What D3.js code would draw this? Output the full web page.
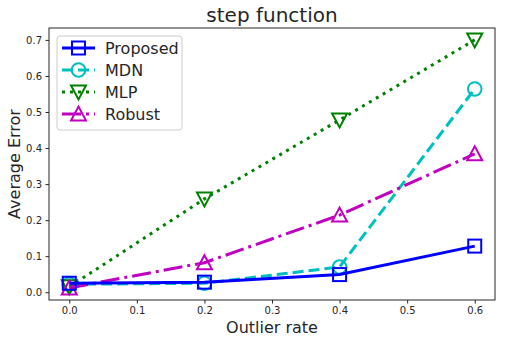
<!DOCTYPE html>
<html>
<head>
<meta charset="utf-8">
<script src="https://cdn.jsdelivr.net/npm/d3@7"></script>
<style>
  body { margin: 0; background: #fff; }
  text { font-family: "DejaVu Sans", sans-serif; fill: #262626; }
</style>
</head>
<body>
<script>
const W = 506, H = 343
const margin = {top: 28, right: 11, bottom: 43, left: 49}

// data
const outlierRates = [0.0, 0.2, 0.4, 0.6]
const proposed = [0.025, 0.028, 0.049, 0.128]
const mdn = [0.022, 0.025, 0.07, 0.564]
const mlp = [0.015, 0.259, 0.478, 0.70]
const robust = [0.012, 0.082, 0.214, 0.384]
const xTicks = [0.0, 0.1, 0.2, 0.3, 0.4, 0.5, 0.6]
const yTicks = [0.0, 0.1, 0.2, 0.3, 0.4, 0.5, 0.6, 0.7]

const series = [
  {name: 'Proposed', values: proposed, color: '#0000ff', dash: null, marker: 'square'},
  {name: 'MDN', values: mdn, color: '#00bfbf', dash: '11,5', marker: 'circle'},
  {name: 'MLP', values: mlp, color: '#008000', dash: '3,5', marker: 'tridown'},
  {name: 'Robust', values: robust, color: '#bf00bf', dash: '19,5,3,5', marker: 'triup'}
]

const svg = d3.select('body').append('svg')
    .attr('width', W)
    .attr('height', H)

const xScale = d3.scaleLinear()
    .domain([-0.03, 0.63])
    .range([margin.left, W - margin.right])

const yScale = d3.scaleLinear()
    .domain([-0.0215, 0.733])
    .range([H - margin.bottom, margin.top])

// axes
const xAxis = svg.append('g')
    .attr('transform', 'translate(0,' + (H - margin.bottom) + ')')
    .call(d3.axisBottom(xScale).tickValues(xTicks).tickFormat(d3.format('.1f')).tickSizeOuter(0).tickSize(3.5).tickPadding(3.5))
xAxis.select('.domain').remove()
xAxis.selectAll('text').style('font-size', '10px').attr('fill', '#262626')

const yAxis = svg.append('g')
    .attr('transform', 'translate(' + margin.left + ',0)')
    .call(d3.axisLeft(yScale).tickValues(yTicks).tickFormat(d3.format('.1f')).tickSizeOuter(0).tickSize(3.5).tickPadding(3.5))
yAxis.select('.domain').remove()
yAxis.selectAll('text').style('font-size', '10px').attr('fill', '#262626')
svg.selectAll('.tick line').attr('stroke', '#262626')

// frame
svg.append('rect')
    .attr('x', margin.left)
    .attr('y', margin.top)
    .attr('width', W - margin.left - margin.right)
    .attr('height', H - margin.top - margin.bottom)
    .attr('fill', 'none')
    .attr('stroke', '#262626')
    .attr('stroke-width', 1)

function drawMarker(g, type, x, y, color) {
  if (type === 'square') {
    g.append('rect').attr('x', x - 6.5).attr('y', y - 6.5).attr('width', 13).attr('height', 13)
      .attr('fill', 'none').attr('stroke', color).attr('stroke-width', 2)
  } else if (type === 'circle') {
    g.append('circle').attr('cx', x).attr('cy', y).attr('r', 6.8)
      .attr('fill', 'none').attr('stroke', color).attr('stroke-width', 2)
  } else if (type === 'tridown') {
    g.append('path').attr('d', `M${x - 7.5},${y - 6.5}L${x + 7.5},${y - 6.5}L${x},${y + 7.5}Z`)
      .attr('fill', 'none').attr('stroke', color).attr('stroke-width', 2)
  } else {
    g.append('path').attr('d', `M${x - 7.5},${y + 6.5}L${x + 7.5},${y + 6.5}L${x},${y - 7.5}Z`)
      .attr('fill', 'none').attr('stroke', color).attr('stroke-width', 2)
  }
}

const line = d3.line()
    .x((d, i) => xScale(outlierRates[i]))
    .y(d => yScale(d))

// draw Proposed last so it sits on top
const drawOrder = [series[1], series[2], series[3], series[0]]
drawOrder.forEach(s => {
  const g = svg.append('g')
  g.append('path')
      .datum(s.values)
      .attr('d', line)
      .attr('fill', 'none')
      .attr('stroke', s.color)
      .attr('stroke-width', 3)
      .attr('stroke-dasharray', s.dash)
  s.values.forEach((v, i) => drawMarker(g, s.marker, xScale(outlierRates[i]), yScale(v), s.color))
})

// legend
const legend = svg.append('g')
legend.append('rect')
    .attr('x', 57).attr('y', 36).attr('width', 125).attr('height', 94).attr('rx', 3)
    .attr('fill', 'white').attr('fill-opacity', 0.8)
    .attr('stroke', '#cccccc').attr('stroke-width', 1)
series.forEach((s, i) => {
  const y = 48 + i * 22
  legend.append('line')
      .attr('x1', 62).attr('x2', 95).attr('y1', y).attr('y2', y)
      .attr('stroke', s.color).attr('stroke-width', 3)
      .attr('stroke-dasharray', s.dash)
  drawMarker(legend, s.marker, 78.5, y, s.color)
  legend.append('text')
      .attr('x', 105).attr('y', y + 6)
      .style('font-size', '16px')
      .text(s.name)
})

// titles
svg.append('text')
    .attr('x', (margin.left + W - margin.right) / 2)
    .attr('y', 22)
    .attr('text-anchor', 'middle')
    .style('font-size', '20px')
    .attr('fill', '#000')
    .text('step function')

svg.append('text')
    .attr('x', (margin.left + W - margin.right) / 2)
    .attr('y', 333)
    .attr('text-anchor', 'middle')
    .style('font-size', '16px')
    .text('Outlier rate')

svg.append('text')
    .attr('transform', 'translate(20,' + ((margin.top + H - margin.bottom) / 2) + ')rotate(-90)')
    .attr('text-anchor', 'middle')
    .style('font-size', '16px')
    .text('Average Error')
</script>
</body>
</html>
